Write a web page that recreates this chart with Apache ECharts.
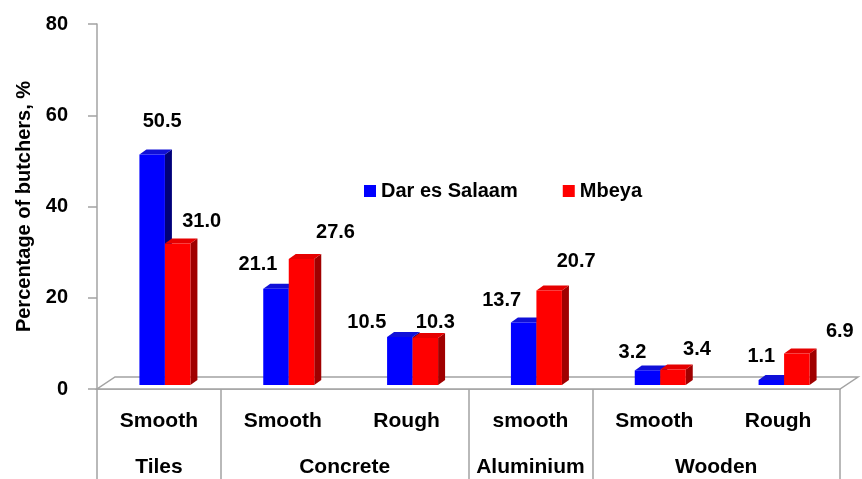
<!DOCTYPE html>
<html><head><meta charset="utf-8">
<script src="https://cdn.jsdelivr.net/npm/echarts@6/dist/echarts.min.js"></script>
<style>html,body{margin:0;padding:0;background:#fff}#c{width:862px;height:479px}</style>
</head><body><div id="c"></div>
<script>
// ---- data ----
const subCategories = ['Smooth', 'Smooth', 'Rough', 'smooth', 'Smooth', 'Rough'];
const groupNames = ['Tiles', 'Concrete', 'Aluminium', 'Wooden'];
const groupSpans = [1, 2, 1, 2];
const seriesNames = ['Dar es Salaam', 'Mbeya'];
const darEsSalaam = [50.5, 21.1, 10.5, 13.7, 3.2, 1.1];
const mbeya = [31.0, 27.6, 10.3, 20.7, 3.4, 6.9];
const yMin = 0, yMax = 80, yStep = 20;

// ---- styling / layout ----
const FONT_FAMILY = '"Liberation Sans", Arial, sans-serif';
const LABEL_FONT = 'bold 20px ' + FONT_FAMILY;
const AXIS_GRAY = '#a3a3a3';
const BAR_W = 25.5, DX = 7, DY = -5, LIFT = 4;
const FLOOR_DX = 18, FLOOR_DY = -12;
const barLeftOffset = [-19.5, 6];
const blueColors = { front: '#0000ff', top: '#1010d8', side: '#00007a' };
const redColors = { front: '#ff0000', top: '#e60000', side: '#a00000' };
// label nudges (relative to bar top centre), as in the original annotation layout
const blueLabelNudge = [[10, -33], [-18, -24], [-33, -15], [-22, -22], [-15, -18], [-10, -23]];
const redLabelNudge = [[24, -22], [34, -27], [10, -16], [27, -29], [24, -20], [43, -22]];

// group boundaries and centres derived from spans
const groupBoundaries = [0];
const groupCenters = [];
groupSpans.forEach(function (s) {
  const start = groupBoundaries[groupBoundaries.length - 1];
  groupCenters.push(start + s / 2);
  groupBoundaries.push(start + s);
});

function barRenderer(k, colors, nudges) {
  return function (params, api) {
    const idx = api.value(0), v = api.value(1);
    const p0 = api.coord([idx, 0]);
    const p1 = api.coord([idx, v]);
    const x0 = p0[0] + barLeftOffset[k];
    const x1 = x0 + BAR_W;
    const yb = p0[1] - LIFT;
    const yt = p1[1] - LIFT;
    const side = { type: 'polygon', shape: { points: [[x1, yt], [x1 + DX, yt + DY], [x1 + DX, yb + DY], [x1, yb]] }, style: { fill: colors.side } };
    const top = { type: 'polygon', shape: { points: [[x0, yt], [x1, yt], [x1 + DX, yt + DY], [x0 + DX, yt + DY]] }, style: { fill: colors.top } };
    const front = { type: 'rect', shape: { x: x0, y: yt, width: BAR_W, height: yb - yt }, style: { fill: colors.front } };
    const n = nudges[params.dataIndex];
    const label = { type: 'text', x: (x0 + x1) / 2 + n[0], y: yt + n[1], z2: 10,
      style: { text: v.toFixed(1), font: LABEL_FONT, fill: '#000', align: 'center', verticalAlign: 'middle' } };
    return { type: 'group', children: [side, top, front, label] };
  };
}

const chart = echarts.init(document.getElementById('c'), null, { renderer: 'canvas' });
chart.setOption({
  backgroundColor: '#fff',
  animation: false,
  textStyle: { fontFamily: FONT_FAMILY },
  grid: { left: 97, right: 22, top: 24, bottom: 90, containLabel: false },
  legend: {
    data: seriesNames, left: 359, top: 176, icon: 'rect', itemWidth: 12, itemHeight: 12, itemGap: 45,
    textStyle: { fontWeight: 'bold', fontSize: 20, color: '#000', fontFamily: FONT_FAMILY }
  },
  xAxis: [
    {
      type: 'category', data: subCategories, boundaryGap: true,
      axisLine: { show: true, lineStyle: { color: AXIS_GRAY, width: 1.5 } },
      axisTick: { show: false },
      axisLabel: { margin: 22, fontWeight: 'bold', fontSize: 21, color: '#000', fontFamily: FONT_FAMILY, interval: 0 }
    },
    {
      type: 'value', min: 0, max: subCategories.length, position: 'bottom',
      axisLine: { show: false }, splitLine: { show: false },
      axisTick: { show: true, customValues: groupBoundaries, length: 90, lineStyle: { color: AXIS_GRAY, width: 1.5 } },
      axisLabel: {
        customValues: groupCenters, margin: 68, fontWeight: 'bold', fontSize: 21, color: '#000', fontFamily: FONT_FAMILY,
        formatter: function (v) {
          for (let j = 0; j < groupCenters.length; j++) if (Math.abs(groupCenters[j] - v) < 1e-6) return groupNames[j];
          return '';
        }
      }
    }
  ],
  yAxis: {
    type: 'value', min: yMin, max: yMax, interval: yStep,
    name: 'Percentage of butchers, %', nameLocation: 'middle', nameGap: 63,
    nameTextStyle: { fontWeight: 'bold', fontSize: 20, color: '#000', fontFamily: FONT_FAMILY },
    axisLine: { show: true, lineStyle: { color: AXIS_GRAY, width: 1.5 } },
    axisTick: { show: true, length: 9, lineStyle: { color: AXIS_GRAY, width: 1.5 } },
    splitLine: { show: false },
    axisLabel: { margin: 29, fontWeight: 'bold', fontSize: 20, color: '#000', fontFamily: FONT_FAMILY }
  },
  series: [
    {
      type: 'custom', name: 'floor', silent: true, z: 1, data: [[0, 0]],
      renderItem: function (params, api) {
        const cs = params.coordSys;
        const yF = cs.y + cs.height, xl = cs.x, xr = cs.x + cs.width;
        return { type: 'polygon', shape: { points: [[xl, yF], [xr, yF], [xr + FLOOR_DX, yF + FLOOR_DY], [xl + FLOOR_DX, yF + FLOOR_DY]] },
          style: { fill: '#fff', stroke: AXIS_GRAY, lineWidth: 1.5 } };
      }
    },
    {
      type: 'custom', name: seriesNames[0], z: 3, itemStyle: { color: blueColors.front },
      encode: { x: 0, y: 1 },
      data: darEsSalaam.map(function (v, i) { return [i, v]; }),
      renderItem: barRenderer(0, blueColors, blueLabelNudge)
    },
    {
      type: 'custom', name: seriesNames[1], z: 4, itemStyle: { color: redColors.front },
      encode: { x: 0, y: 1 },
      data: mbeya.map(function (v, i) { return [i, v]; }),
      renderItem: barRenderer(1, redColors, redLabelNudge)
    }
  ]
});
</script></body></html>
